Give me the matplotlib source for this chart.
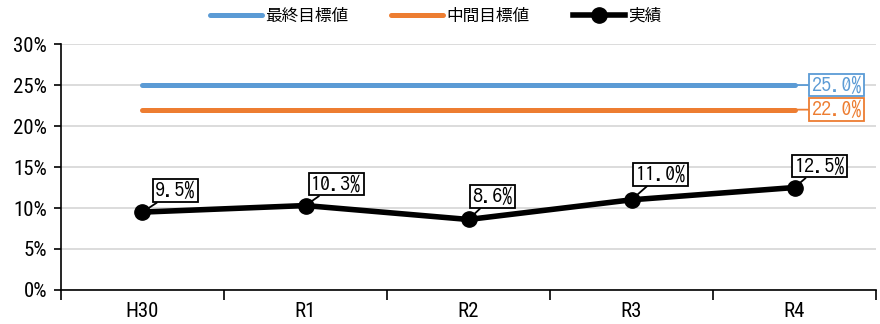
import matplotlib.pyplot as plt
from matplotlib.ticker import FuncFormatter, FixedLocator

plt.rcParams['font.family'] = ['Roboto Condensed', 'Noto Sans CJK JP', 'DejaVu Sans']

years = ['H30', 'R1', 'R2', 'R3', 'R4']
final_target = [25.0, 25.0, 25.0, 25.0, 25.0]
mid_target = [22.0, 22.0, 22.0, 22.0, 22.0]
actual = [9.5, 10.3, 8.6, 11.0, 12.5]

# callout offsets (points) of each value label from its marker
label_dx = [9, 4, 3, 3, 0]
label_dy = [9, 9, 10, 12, 9]

BLUE = '#5b9bd5'
ORANGE = '#ed7d31'
LABEL_FONT = ['IPAGothic', 'DejaVu Sans']

fig = plt.figure(figsize=(8.8, 3.24), dpi=100)
ax = fig.add_axes([0.0693, 0.105, 0.9262, 0.759])

x = list(range(len(years)))
ax.plot(x, final_target, color=BLUE, lw=3.6, solid_capstyle='round', label='最終目標値', zorder=3)
ax.plot(x, mid_target, color=ORANGE, lw=3.6, solid_capstyle='round', label='中間目標値', zorder=3)
ax.plot(x, actual, color='black', lw=4, marker='o', markersize=11, label='実績', zorder=4)

for xi, v, dx, dy in zip(x, actual, label_dx, label_dy):
    ax.annotate(f'{v:.1f}%', xy=(xi, v), xytext=(dx, dy), textcoords='offset points',
                fontsize=14.5, family=LABEL_FONT, ha='left', va='bottom',
                bbox=dict(boxstyle='square,pad=0.12', fc='white', ec='black', lw=1.3),
                arrowprops=dict(arrowstyle='-', color='black', lw=1.3, shrinkA=0, shrinkB=0),
                zorder=6)

for vals, col in [(final_target, BLUE), (mid_target, ORANGE)]:
    ax.annotate(f'{vals[-1]:.1f}%', xy=(x[-1], vals[-1]), xytext=(12, 0), textcoords='offset points',
                fontsize=14.5, family=LABEL_FONT, ha='left', va='center', color=col,
                bbox=dict(boxstyle='square,pad=0.12', fc='white', ec=col, lw=1.3),
                arrowprops=dict(arrowstyle='-', color=col, lw=1.3, shrinkA=0, shrinkB=0),
                zorder=6)

ax.set_xlim(-0.5, len(years) - 0.5)
ax.set_ylim(0, 30)
ax.set_yticks(range(0, 31, 5))
ax.yaxis.set_major_formatter(FuncFormatter(lambda v, p: f'{v:.0f}%'))
ax.set_xticks(x)
ax.set_xticklabels(years)
ax.xaxis.set_minor_locator(FixedLocator([i - 0.5 for i in range(len(years) + 1)]))
ax.tick_params(axis='x', which='major', length=0, labelsize=15, pad=9)
ax.tick_params(axis='x', which='minor', length=7, width=1.2, direction='out')
ax.tick_params(axis='y', length=5, width=1.2, labelsize=15, pad=5)

ax.grid(axis='y', color='#d9d9d9', lw=1.3)
ax.set_axisbelow(True)
for s in ['top', 'right']:
    ax.spines[s].set_visible(False)
ax.spines['left'].set_linewidth(1.2)
ax.spines['bottom'].set_linewidth(1.2)

fig.legend(loc='upper center', bbox_to_anchor=(0.495, 1.02), ncol=3, frameon=False,
           fontsize=12, handlelength=3.1, columnspacing=2.6, handletextpad=0.2)

fig.savefig('out.png', dpi=100)
